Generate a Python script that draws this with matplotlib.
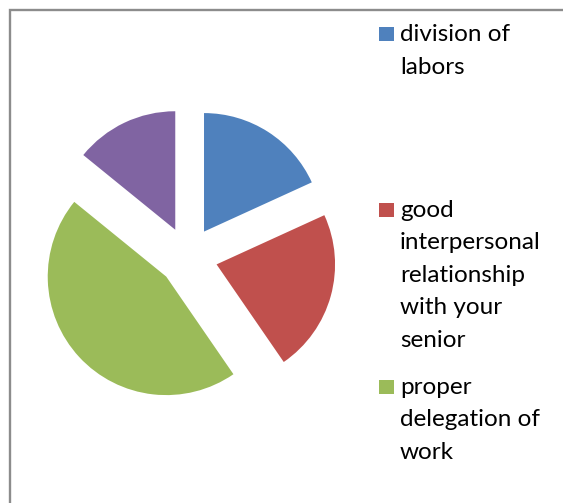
import matplotlib
matplotlib.use("Agg")
import matplotlib.pyplot as plt
import matplotlib.patches as mpatches

# data
labels  = ["division of\nlabors",
           "good\ninterpersonal\nrelationship\nwith your\nsenior",
           "proper\ndelegation of\nwork",
           "other"]
values  = [18, 22, 45, 14]
colors  = ["#4F81BD", "#C0504D", "#9BBB59", "#8064A2"]
explode = [0.25, 0.25, 0.25, 0.25]

W, H = 563, 503
fig = plt.figure(figsize=(W / 100, H / 100), dpi=100)
fig.patch.set_facecolor("white")

# outer chart frame (only top + left edge visible in the crop)
fig.add_artist(mpatches.Rectangle((9.7 / W, -0.1), 1.2, 1 - 9.5 / H + 0.1,
                                  transform=fig.transFigure, fill=False,
                                  edgecolor="#8c8c8c", linewidth=1.7))

# pie
r = 118.5
cx, cy = 188, 256.5
span = 1.5
ax = fig.add_axes([(cx - span * r) / W, (H - cy - span * r) / H,
                   2 * span * r / W, 2 * span * r / H])
ax.pie(values, colors=colors, explode=explode, startangle=90,
       counterclock=False, wedgeprops=dict(linewidth=0))
ax.set_aspect("auto")
ax.set_xlim(-span, span)
ax.set_ylim(-span, span)
ax.axis("off")

# legend (only the first three entries fit in the frame)
first_baselines = [41, 217, 394]
line_step = 32.5
for lab, col, base in zip(labels[:3], colors[:3], first_baselines):
    fig.add_artist(mpatches.Rectangle((379 / W, 1 - base / H),
                                      14.5 / W, 14.5 / H,
                                      transform=fig.transFigure,
                                      facecolor=col, edgecolor="none"))
    for i, line in enumerate(lab.split("\n")):
        fig.text(400 / W, 1 - (base + i * line_step) / H, line,
                 ha="left", va="baseline", fontsize=17.5, family="Lato",
                 color="black")

fig.savefig("out.png", dpi=100)
